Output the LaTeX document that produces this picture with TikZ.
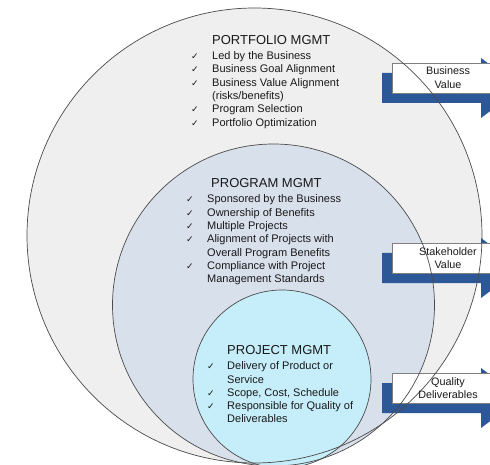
\documentclass[tikz,border=0pt]{standalone}
\usepackage{fontspec}
\setmainfont{Liberation Sans}
\newfontfamily\symfont{DejaVu Sans}
\definecolor{outerfill}{RGB}{239,239,239}
\definecolor{progfill}{RGB}{216,224,235}
\definecolor{projfill}{RGB}{198,238,250}
\definecolor{arrowblue}{RGB}{44,88,152}
\definecolor{linegray}{RGB}{75,75,75}
\definecolor{textgray}{RGB}{25,25,25}
\begin{document}
\begin{tikzpicture}[x=1pt,y=-1pt,
  ring/.style={draw=linegray, line width=0.7pt},
  headtext/.style={anchor=base west, inner sep=0pt, text=textgray, font=\fontsize{13}{15}\selectfont},
  itemtext/.style={anchor=base west, inner sep=0pt, text=textgray, font=\fontsize{11}{13}\selectfont},
  checkmark/.style={anchor=base, inner sep=0pt, text=textgray, font=\symfont\fontsize{9}{10}\selectfont},
  valuebox/.style={draw=gray, fill=white, line width=0.5pt, minimum width=112pt, minimum height=30pt, anchor=north west, inner sep=0pt},
  valuetext/.style={anchor=base, inner sep=0pt, text=textgray, font=\fontsize{10.8}{13}\selectfont},
  bluearrow/.style={fill=arrowblue}
]
\useasboundingbox (0,0) rectangle (490,465);
\clip (0,0) rectangle (490,465);
% circle fills
\coordinate (cport) at (254.5,235.5);
\coordinate (cprog) at (273.5,305);
\coordinate (cproj) at (282,379);
\fill[white] (0,0) rectangle (490,465);
\fill[outerfill] (cport) circle[radius=227.5pt];
\fill[progfill] (cprog) circle[radius=161pt];
\fill[projfill] (cproj) circle[radius=89pt];
% blue arrows and value boxes
\foreach \t/\nm in {63/bv,243/sv,373/qd}{
  \fill[bluearrow] (382,\t+10) -- (481,\t+10) -- (481,\t-5) -- (521,\t+25)
     -- (481,\t+55) -- (481,\t+40) -- (382,\t+40) -- cycle;
  \node[valuebox] (\nm) at (392,\t) {};
}
% circle outlines on top
\draw[ring] (cport) circle[radius=227.5pt];
\draw[ring] (cprog) circle[radius=161pt];
\draw[ring] (cproj) circle[radius=89pt];
% value box texts
\node[valuetext] (bv1) at (448,75) {Business};
\node[valuetext] (bv2) at (448,88.3) {Value};
\node[valuetext] (sv1) at (448,255) {Stakeholder};
\node[valuetext] (sv2) at (448,268.3) {Value};
\node[valuetext] (qd1) at (448,385) {Quality};
\node[valuetext] (qd2) at (448,398.3) {Deliverables};
% portfolio
\node[headtext] (porth) at (212,44.7) {PORTFOLIO MGMT};
\node[itemtext] (port1) at (212,59.3) {Led by the Business};
\node[itemtext] (port2) at (212,72.7) {Business Goal Alignment};
\node[itemtext] (port3) at (212,86.1) {Business Value Alignment};
\node[itemtext] (port3b) at (212,99.5) {(risks/benefits)};
\node[itemtext] (port4) at (212,112.9) {Program Selection};
\node[itemtext] (port5) at (212,126.3) {Portfolio Optimization};
\foreach \y/\n in {59.3/a,72.7/b,86.1/c,112.9/d,126.3/e}
  \node[checkmark] (portck\n) at (195,\y) {✓};
% program
\node[headtext] (progh) at (211,187.5) {PROGRAM MGMT};
\node[itemtext] (prog1) at (207,203) {Sponsored by the Business};
\node[itemtext] (prog2) at (207,216.3) {Ownership of Benefits};
\node[itemtext] (prog3) at (207,229.6) {Multiple Projects};
\node[itemtext] (prog4) at (207,242.9) {Alignment of Projects with};
\node[itemtext] (prog4b) at (207,256.2) {Overall Program Benefits};
\node[itemtext] (prog5) at (207,269.5) {Compliance with Project};
\node[itemtext] (prog5b) at (207,282.8) {Management Standards};
\foreach \y/\n in {203/a,216.3/b,229.6/c,242.9/d,269.5/e}
  \node[checkmark] (progck\n) at (190,\y) {✓};
% project
\node[headtext] (projh) at (227,354.5) {PROJECT MGMT};
\node[itemtext] (proj1) at (227,369.7) {Delivery of Product or};
\node[itemtext] (proj1b) at (227,383) {Service};
\node[itemtext] (proj2) at (227,396.3) {Scope, Cost, Schedule};
\node[itemtext] (proj3) at (227,409.6) {Responsible for Quality of};
\node[itemtext] (proj3b) at (227,422.9) {Deliverables};
\foreach \y/\n in {369.7/a,396.3/b,409.6/c}
  \node[checkmark] (projck\n) at (211,\y) {✓};
\end{tikzpicture}
\end{document}
